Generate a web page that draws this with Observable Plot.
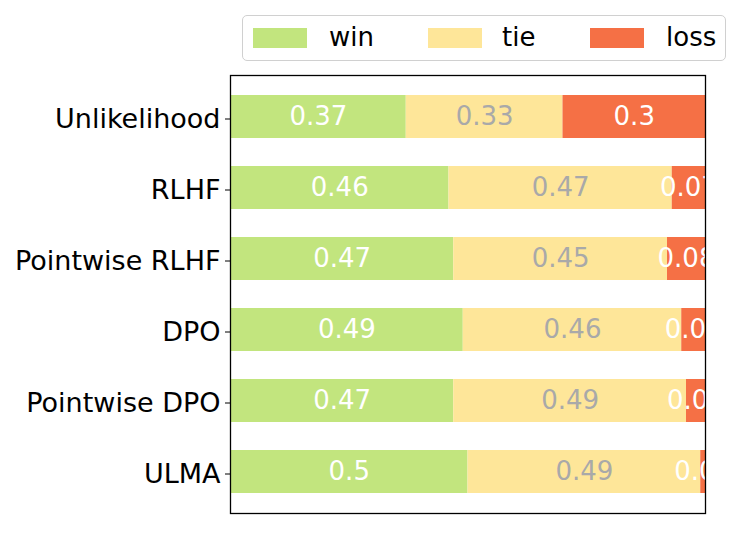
<!DOCTYPE html>
<html>
<head>
<meta charset="utf-8">
<script src="https://cdn.jsdelivr.net/npm/d3@7"></script>
<script src="https://cdn.jsdelivr.net/npm/@observablehq/plot@0.6"></script>
<style>
  body { margin: 0; background: #fff; font-family: "DejaVu Sans", sans-serif; }
  #wrap { position: relative; width: 747px; height: 534px; }
  #legend { position: relative; height: 70px; }
  #legbox { position: absolute; left: 242px; top: 15px; width: 484px; height: 46px;
    border: 1px solid #d0d0d0; border-radius: 5px; box-sizing: border-box; }
  .sw { position: absolute; top: 12px; width: 54px; height: 20px; }
  .lt { position: absolute; top: 4px; font-size: 26px; color: #000; line-height: 34px; }
  #chart svg { display: block; }
</style>
</head>
<body>
<div id="wrap">
  <div id="legend"><div id="legbox"></div></div>
  <div id="chart"></div>
</div>
<script>
const methods = ["Unlikelihood", "RLHF", "Pointwise RLHF", "DPO", "Pointwise DPO", "ULMA"];
const win  = [0.37, 0.46, 0.47, 0.49, 0.47, 0.5];
const tie  = [0.33, 0.47, 0.45, 0.46, 0.49, 0.49];
const loss = [0.3, 0.07, 0.08, 0.05, 0.04, 0.01];
const outcomes = ["win", "tie", "loss"];
const colors = ["#c2e57e", "#fee699", "#f57045"];
const labelColors = ["#ffffff", "#a9a9a9", "#ffffff"];

const series = [win, tie, loss];
const rows = [];
methods.forEach((m, i) => {
  let x = 0;
  outcomes.forEach((o, k) => {
    const v = series[k][i];
    rows.push({method: m, outcome: o, x1: x, x2: x + v, mid: x + v / 2, value: v, k});
    x += v;
  });
});

// Legend
const legbox = document.getElementById("legbox");
const swX = [10, 185, 347];
const txX = [86, 259, 423];
outcomes.forEach((o, k) => {
  const s = document.createElement("div");
  s.className = "sw"; s.style.left = swX[k] + "px"; s.style.background = colors[k];
  legbox.appendChild(s);
  const t = document.createElement("div");
  t.className = "lt"; t.style.left = txX[k] + "px"; t.textContent = o;
  legbox.appendChild(t);
});

const chart = Plot.plot({
  width: 747,
  height: 464,
  marginTop: 5,
  marginBottom: 21,
  marginLeft: 230,
  marginRight: 42,
  style: {fontFamily: "DejaVu Sans", fontSize: "26px", color: "#000", background: "#fff"},
  x: {domain: [0, 1], axis: null},
  y: {domain: methods, padding: 0.4, paddingOuter: 0.28, label: null, tickSize: 5, tickPadding: 5},
  color: {domain: outcomes, range: colors},
  marks: [
    Plot.barX(rows, {x1: "x1", x2: "x2", y: "method", fill: "outcome"}),
    Plot.text(rows, {
      x: "mid", y: "method", text: d => String(d.value),
      fill: d => labelColors[d.k], fontSize: 26, clip: true
    }),
    Plot.axisY({tickSize: 5, tickPadding: 5, fontSize: 27, dy: 2, label: null, stroke: "#000"}),
    Plot.frame({stroke: "#000", strokeWidth: 1.3})
  ]
});
document.getElementById("chart").appendChild(chart);
</script>
</body>
</html>
